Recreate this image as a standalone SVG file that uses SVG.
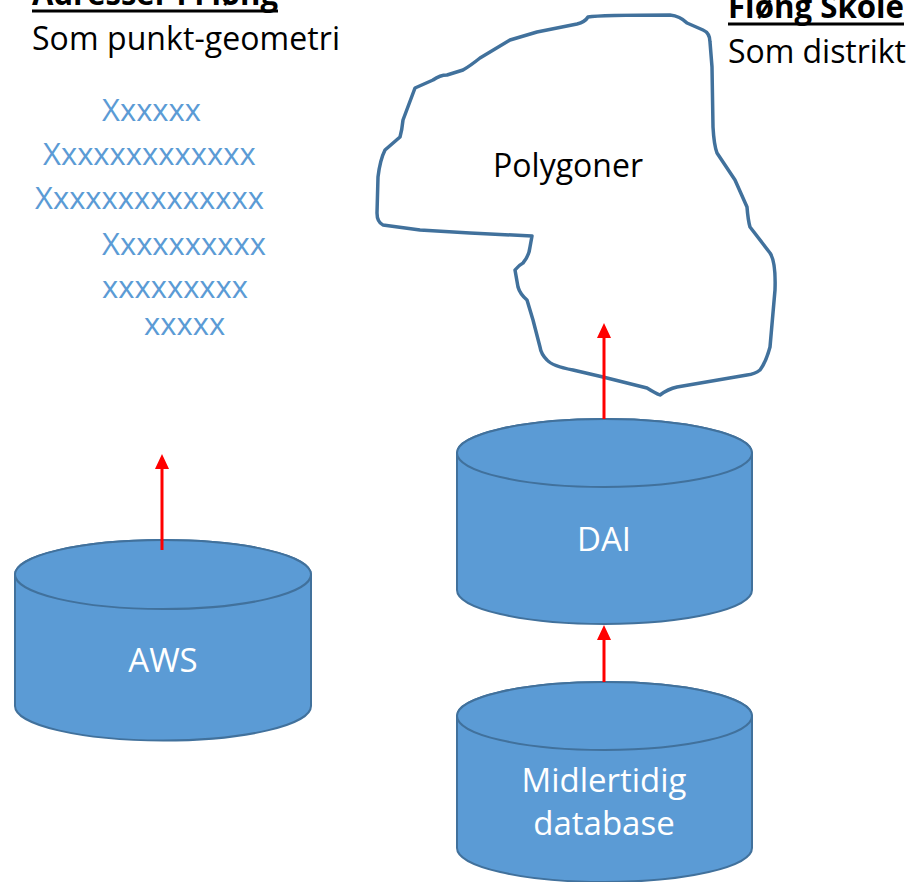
<svg xmlns="http://www.w3.org/2000/svg" width="913" height="882" viewBox="0 0 913 882">
<style>
.t{font-family:"Open Sans","Liberation Sans",sans-serif;font-size:32px;fill:#000}
.h{font-weight:700}
.x{font-family:"Open Sans","Liberation Sans",sans-serif;font-size:31px;fill:#5B9BD5}
.cyl{fill:#5B9BD5;stroke:#41719C;stroke-width:2}
.lbl{font-family:"Open Sans","Liberation Sans",sans-serif;font-size:33px;fill:#fff;text-anchor:middle}
.poly{fill:#fff;stroke:#41719C;stroke-width:3.5;stroke-linejoin:round}
.arr{stroke:#FF0000;stroke-width:3;fill:none}
</style>
<defs>
<marker id="ah" viewBox="0 0 15 14" refX="0" refY="7" markerWidth="15" markerHeight="14" markerUnits="userSpaceOnUse" orient="auto">
<path d="M0,0 L15,7 L0,14 Z" fill="#FF0000"/>
</marker>
</defs>

<g id="heading-left">
<text class="t h" x="32" y="5" textLength="246" lengthAdjust="spacingAndGlyphs">Adresser i Fløng</text>
<rect x="32" y="9.5" width="246" height="3" fill="#000"/>
<text class="t" x="32" y="50" textLength="308">Som punkt-geometri</text>
</g>

<g id="heading-right">
<text class="t h" x="728" y="18" textLength="176" lengthAdjust="spacingAndGlyphs">Fløng Skole</text>
<rect x="728" y="22.5" width="176" height="3" fill="#000"/>
<text class="t" x="728" y="63" textLength="178">Som distrikt</text>
</g>

<g id="points">
<text class="x" x="102" y="121">Xxxxxx</text>
<text class="x" x="43" y="165">Xxxxxxxxxxxxx</text>
<text class="x" x="35" y="209">Xxxxxxxxxxxxxx</text>
<text class="x" x="102" y="255">Xxxxxxxxxx</text>
<text class="x" x="102" y="298">xxxxxxxxx</text>
<text class="x" x="144" y="335">xxxxx</text>
</g>

<g id="polygon">
<path class="poly" d="M588,17 Q600,15 670,15 Q680,16 687,23 L703,30 Q710,33 710,42 L712,67 L713,127 Q714,145 717,153 L735,180 L747,207 Q748,220 750,227 L770,253 Q776,262 775,290 L770,347 Q766,362 760,370 Q755,374 747,375 L677,387 Q668,389 660,395 Q655,393 647,388 L603,377 L573,370 Q552,366 547,360 Q541,354 540,347 L533,320 L527,300 Q520,294 518,287 L515,270 Q519,265 523,263 Q529,256 530,247 L532,236 L470,233 L420,230 L383,225 Q377,222 377,213 L378,177 Q380,160 385,150 L400,137 Q402,130 403,120 L415,88 L433,80 Q440,75 447,75 L463,70 Q470,66 480,58 L510,40 L537,32 L577,24 Q585,22 588,17 Z"/>
<text class="t" x="568" y="177" text-anchor="middle">Polygoner</text>
</g>

<g id="aws">
<path class="cyl" d="M15,574.5 A148,34.5 0 0 1 311,574.5 V706 A148,34.5 0 0 1 15,706 Z"/>
<ellipse class="cyl" cx="163" cy="574.5" rx="148" ry="34.5"/>
<text class="lbl" x="163" y="672">AWS</text>
</g>

<g id="dai">
<path class="cyl" d="M457,453 A147.5,34 0 0 1 752,453 V590 A147.5,34 0 0 1 457,590 Z"/>
<ellipse class="cyl" cx="604.5" cy="453" rx="147.5" ry="34"/>
<text class="lbl" x="604" y="551">DAI</text>
</g>

<g id="midlertidig">
<path class="cyl" d="M457,716 A147.5,34 0 0 1 752,716 V848 A147.5,34 0 0 1 457,848 Z"/>
<ellipse class="cyl" cx="604.5" cy="716" rx="147.5" ry="34"/>
<text class="lbl" x="604" y="792">Midlertidig</text>
<text class="lbl" x="604" y="835">database</text>
</g>

<g id="connectors">
<path class="arr" d="M162,550 V469" marker-end="url(#ah)"/>
<path class="arr" d="M604,419 V338" marker-end="url(#ah)"/>
<path class="arr" d="M604,682 V640" marker-end="url(#ah)"/>
</g>
</svg>
